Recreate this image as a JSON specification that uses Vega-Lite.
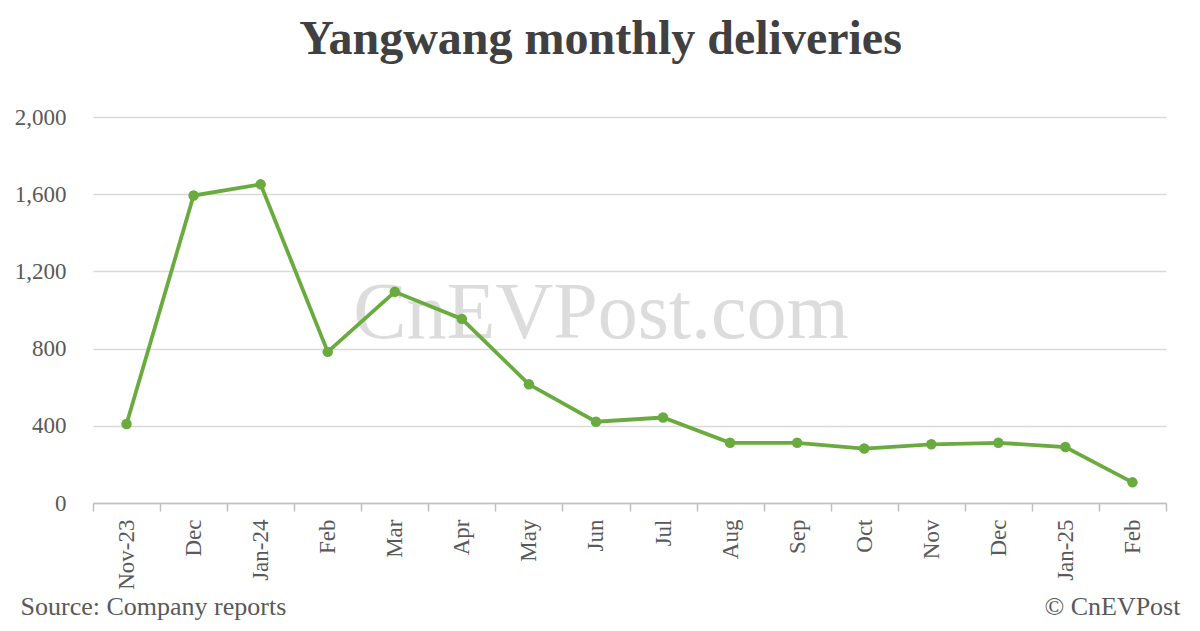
{
  "$schema": "https://vega.github.io/schema/vega-lite/v6.json",
  "width": 1073,
  "height": 386,
  "autosize": {"type": "none"},
  "padding": {"left": 93, "top": 117, "right": 34, "bottom": 128},
  "background": "white",
  "title": {
    "text": "Yangwang monthly deliveries",
    "font": "Liberation Serif",
    "fontSize": 48,
    "fontWeight": "bold",
    "color": "#404040",
    "anchor": "middle",
    "frame": "group",
    "dx": -29,
    "offset": 4,
    "baseline": "alphabetic"
  },
  "config": {
    "view": {"stroke": null},
    "font": "Liberation Serif",
    "axis": {"labelFont": "Liberation Serif", "labelFontSize": 23, "labelColor": "#595959"}
  },
  "data": {
    "values": [
      {"month": "2023-11", "v": 409},
      {"month": "2023-12", "v": 1593},
      {"month": "2024-01", "v": 1651},
      {"month": "2024-02", "v": 783},
      {"month": "2024-03", "v": 1094},
      {"month": "2024-04", "v": 954},
      {"month": "2024-05", "v": 615},
      {"month": "2024-06", "v": 421},
      {"month": "2024-07", "v": 443},
      {"month": "2024-08", "v": 312},
      {"month": "2024-09", "v": 312},
      {"month": "2024-10", "v": 282},
      {"month": "2024-11", "v": 304},
      {"month": "2024-12", "v": 312},
      {"month": "2025-01", "v": 290},
      {"month": "2025-02", "v": 107}
    ]
  },
  "layer": [
    {
      "data": {"values": [{"t": "CnEVPost.com", "month": "2024-06", "v": 1000}]},
      "mark": {"type": "text", "font": "Liberation Serif", "fontSize": 80, "color": "#dcdcdc", "align": "center", "baseline": "alphabetic", "dx": 5, "dy": 28},
      "encoding": {
        "x": {"field": "month", "type": "ordinal"},
        "y": {"field": "v", "type": "quantitative"},
        "text": {"field": "t"}
      }
    },
    {
      "mark": {"type": "line", "color": "#6aab3f", "strokeWidth": 3.8, "point": {"filled": true, "size": 110, "color": "#6aab3f", "opacity": 1}},
      "encoding": {
        "x": {
          "field": "month",
          "type": "ordinal",
          "sort": null,
          "scale": {
            "type": "band",
            "paddingInner": 0,
            "paddingOuter": 0,
            "domain": ["2023-11", "2023-12", "2024-01", "2024-02", "2024-03", "2024-04", "2024-05", "2024-06", "2024-07", "2024-08", "2024-09", "2024-10", "2024-11", "2024-12", "2025-01", "2025-02"]
          },
          "axis": {
            "title": null,
            "labelAngle": -90,
            "tickBand": "extent",
            "domainColor": "#bfbfbf",
            "domainWidth": 1.5,
            "tickColor": "#bfbfbf",
            "tickWidth": 1.5,
            "tickSize": 8,
            "labelPadding": 8,
            "grid": false,
            "labelExpr": "{'2023-11':'Nov-23','2023-12':'Dec','2024-01':'Jan-24','2024-02':'Feb','2024-03':'Mar','2024-04':'Apr','2024-05':'May','2024-06':'Jun','2024-07':'Jul','2024-08':'Aug','2024-09':'Sep','2024-10':'Oct','2024-11':'Nov','2024-12':'Dec','2025-01':'Jan-25','2025-02':'Feb'}[datum.value]"
          }
        },
        "y": {
          "field": "v",
          "type": "quantitative",
          "scale": {"domain": [0, 2000]},
          "axis": {
            "title": null,
            "values": [0, 400, 800, 1200, 1600, 2000],
            "format": ",d",
            "domain": false,
            "ticks": false,
            "labelPadding": 27,
            "gridColor": "#d9d9d9",
            "gridWidth": 1.5
          }
        }
      }
    },
    {
      "data": {"values": [{"t": "Source: Company reports", "month": "2023-11", "v": 0}]},
      "mark": {"type": "text", "font": "Liberation Serif", "fontSize": 26, "color": "#595959", "align": "left", "baseline": "alphabetic", "dx": -106, "dy": 112},
      "encoding": {
        "x": {"field": "month", "type": "ordinal"},
        "y": {"field": "v", "type": "quantitative"},
        "text": {"field": "t"}
      }
    },
    {
      "data": {"values": [{"t": "© CnEVPost", "month": "2025-02", "v": 0}]},
      "mark": {"type": "text", "font": "Liberation Serif", "fontSize": 26, "color": "#595959", "align": "right", "baseline": "alphabetic", "dx": 48, "dy": 112},
      "encoding": {
        "x": {"field": "month", "type": "ordinal"},
        "y": {"field": "v", "type": "quantitative"},
        "text": {"field": "t"}
      }
    }
  ]
}
